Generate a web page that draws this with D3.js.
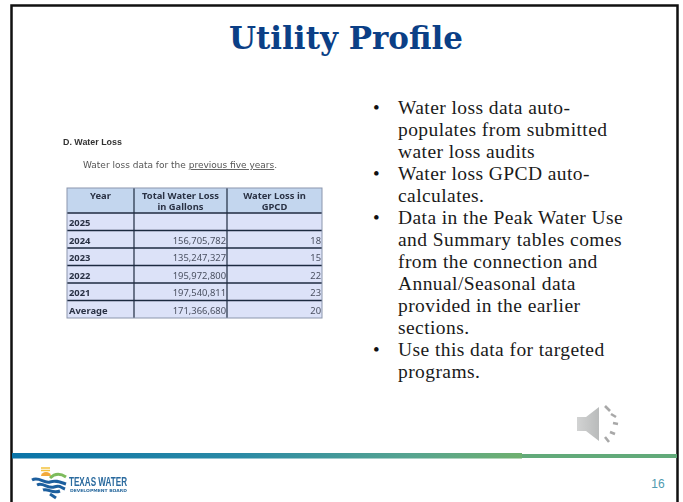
<!DOCTYPE html>
<html>
<head>
<meta charset="utf-8">
<script src="https://cdn.jsdelivr.net/npm/d3@7"></script>
<style>
html, body { margin: 0; padding: 0; background: #fff; }
svg { display: block; }
</style>
</head>
<body>
<svg id="slide" width="683" height="502"></svg>
<script>
// table values
const years = ["2025", "2024", "2023", "2022", "2021", "Average"];
const gallons = ["", "156,705,782", "135,247,327", "195,972,800", "197,540,811", "171,366,680"];
const gpcd = ["", "18", "15", "22", "23", "20"];
const headers = [["Year"], ["Total Water Loss", "in Gallons"], ["Water Loss in", "GPCD"]];

const bullets = [
    ["Water loss data auto-", "populates from submitted", "water loss audits"],
    ["Water loss GPCD auto-", "calculates."],
    ["Data in the Peak Water Use", "and Summary tables comes", "from the connection and", "Annual/Seasonal data", "provided in the earlier", "sections."],
    ["Use this data for targeted", "programs."]
];

const svg = d3.select("#slide");
const serif = "'Liberation Serif', serif";
const sans = "'Noto Sans', sans-serif";

// the table is a pasted screenshot in the original, a bit soft
const defs = svg.append("defs");
defs.append("filter").attr("id", "soft")
    .append("feGaussianBlur").attr("stdDeviation", 0.3);

// slide frame
svg.append("path")
    .attr("d", "M11.5,502V5.5H677.5V502")
    .attr("fill", "none").attr("stroke", "#111").attr("stroke-width", 2.5);

svg.append("text").text("Utility Profile")
    .attr("x", 229).attr("y", 48.5)
    .attr("textLength", 234).attr("lengthAdjust", "spacingAndGlyphs")
    .attr("font-family", "'DejaVu Serif', serif").attr("font-weight", "bold")
    .attr("font-size", 31).attr("fill", "#0b3f86");

const shot = svg.append("g").attr("filter", "url(#soft)");

// screenshot heading
shot.append("text").text("D. Water Loss")
    .attr("x", 63).attr("y", 145)
    .attr("font-family", "'Liberation Sans', sans-serif").attr("font-weight", "bold")
    .attr("font-size", 8.9).attr("fill", "#333");
const intro = shot.append("text")
    .attr("x", 83).attr("y", 168)
    .attr("font-family", "'DejaVu Sans', sans-serif").attr("font-size", 9).attr("fill", "#555");
intro.append("tspan").text("Water loss data for the ");
intro.append("tspan").text("previous five years").attr("text-decoration", "underline");
intro.append("tspan").text(".");

// table
const xCol = d3.scaleOrdinal().domain([0, 1, 2, 3]).range([67, 134, 227, 322]);
const yRow = d3.scaleBand().domain(years).range([213, 318]);
const table = shot.append("g");

table.append("rect")
    .attr("x", xCol(0)).attr("y", 188)
    .attr("width", xCol(3) - xCol(0)).attr("height", 25)
    .attr("fill", "#c3d6ee");
table.append("rect")
    .attr("x", xCol(0)).attr("y", 213)
    .attr("width", xCol(3) - xCol(0)).attr("height", 105)
    .attr("fill", "#dce2f8");

headers.forEach(function(lines, i) {
    const cx = (xCol(i) + xCol(i + 1)) / 2;
    const head = table.append("text")
        .attr("text-anchor", "middle")
        .attr("font-family", sans).attr("font-weight", "bold")
        .attr("font-size", 9.4).attr("fill", "#2a3244");
    head.selectAll("tspan").data(lines).enter().append("tspan")
        .text(function(d) { return d; })
        .attr("x", cx)
        .attr("y", function(d, k) { return 199 + k * 11; });
});

table.selectAll(".year").data(years).enter().append("text")
    .attr("class", "year")
    .text(function(d) { return d; })
    .attr("x", 69)
    .attr("y", function(d) { return yRow(d) + 13; })
    .attr("font-family", sans).attr("font-weight", "bold")
    .attr("font-size", 9.4).attr("fill", "#2a3244");

[[gallons, 2], [gpcd, 3]].forEach(function(c) {
    table.selectAll(null).data(c[0]).enter().append("text")
        .text(function(d) { return d; })
        .attr("x", xCol(c[1]) - 1)
        .attr("y", function(d, i) { return yRow(years[i]) + 13; })
        .attr("text-anchor", "end")
        .attr("font-family", sans).attr("font-size", 9.4).attr("fill", "#4a5060");
});

// grid lines
table.selectAll(".h").data(years).enter().append("line")
    .attr("class", "h")
    .attr("x1", xCol(0)).attr("x2", xCol(3))
    .attr("y1", function(d) { return yRow(d); })
    .attr("y2", function(d) { return yRow(d); })
    .attr("stroke", "#1f2a40").attr("stroke-width", 1.5);
table.selectAll(".v").data([1, 2]).enter().append("line")
    .attr("class", "v")
    .attr("x1", function(d) { return xCol(d); }).attr("x2", function(d) { return xCol(d); })
    .attr("y1", 188).attr("y2", 318)
    .attr("stroke", "#1f2a40").attr("stroke-width", 1.2);
table.append("rect")
    .attr("x", xCol(0)).attr("y", 188)
    .attr("width", xCol(3) - xCol(0)).attr("height", 130)
    .attr("fill", "none").attr("stroke", "#8b96ad").attr("stroke-width", 1);

// bullet list
let lineNo = 0;
const lineH = 22;
bullets.forEach(function(lines) {
    svg.append("text").text("•")
        .attr("x", 373).attr("y", 114 + lineNo * lineH)
        .attr("font-family", serif).attr("font-size", 19).attr("fill", "#111");
    lines.forEach(function(t) {
        svg.append("text").text(t)
            .attr("x", 398).attr("y", 113.5 + lineNo * lineH)
            .attr("font-family", serif).attr("font-size", 19.5)
            .attr("letter-spacing", 0.42).attr("fill", "#1a1a1a");
        lineNo++;
    });
});

// speaker icon
const speaker = svg.append("g").attr("filter", "url(#soft)");
const cone = defs.append("linearGradient").attr("id", "cone");
cone.append("stop").attr("offset", "0%").attr("stop-color", "#d2d3d3");
cone.append("stop").attr("offset", "100%").attr("stop-color", "#b9bbbb");
speaker.append("path")
    .attr("d", "M577,417H586L599,407V441L586,431H577Z")
    .attr("fill", "url(#cone)");
const dashes = [[605, 406, 610, 411], [611, 414, 616, 417], [613, 423, 618, 424], [610, 432, 615, 434], [605, 437, 609, 442]];
speaker.selectAll("line").data(dashes).enter().append("line")
    .attr("x1", function(d) { return d[0]; }).attr("y1", function(d) { return d[1]; })
    .attr("x2", function(d) { return d[2]; }).attr("y2", function(d) { return d[3]; })
    .attr("stroke", "#a8a8a8").attr("stroke-width", 2.6);

// footer rule
const grad = defs.append("linearGradient").attr("id", "rule");
grad.selectAll("stop").data([["0%", "#0a74a8"], ["45%", "#2b8aa5"], ["78%", "#56a490"], ["100%", "#6fb06f"]])
    .enter().append("stop")
    .attr("offset", function(d) { return d[0]; })
    .attr("stop-color", function(d) { return d[1]; });
svg.append("rect").attr("x", 12).attr("y", 453).attr("width", 510).attr("height", 5.5).attr("fill", "url(#rule)");
svg.append("rect").attr("x", 522).attr("y", 454).attr("width", 155).attr("height", 4).attr("fill", "#62aa7a");

// logo
const logo = svg.append("g").attr("filter", "url(#soft)");
logo.append("path").attr("d", "M41,468H50M41,470.5H50").attr("stroke", "#f4c23e").attr("stroke-width", 1.5);
logo.append("path").attr("d", "M41,476A5,4 0 0 1 51,476Z").attr("fill", "#f2a93b");
logo.append("path").attr("d", "M50,478C55,473 60,473 66,477").attr("fill", "none").attr("stroke", "#7dbb5c").attr("stroke-width", 3);
logo.append("path").attr("d", "M32,480C39,476 44,484 50,482S60,482 66,484").attr("fill", "none").attr("stroke", "#1f5f9e").attr("stroke-width", 3);
logo.append("path").attr("d", "M37,485C43,482 48,489 54,487S60,487 65,489").attr("fill", "none").attr("stroke", "#1f5f9e").attr("stroke-width", 3);
logo.append("path").attr("d", "M43,490C48,488 52,494 60,491").attr("fill", "none").attr("stroke", "#1f5f9e").attr("stroke-width", 3);
logo.append("path").attr("d", "M50,494L56,498").attr("fill", "none").attr("stroke", "#1f5f9e").attr("stroke-width", 3);
logo.append("text").text("TEXAS WATER")
    .attr("x", 69).attr("y", 485.5)
    .attr("textLength", 58).attr("lengthAdjust", "spacingAndGlyphs")
    .attr("font-family", "'Liberation Sans Narrow', 'Liberation Sans', sans-serif").attr("font-weight", "bold")
    .attr("font-size", 12).attr("fill", "#2a6a9e");
logo.append("text").text("DEVELOPMENT BOARD")
    .attr("x", 70).attr("y", 492)
    .attr("textLength", 57).attr("lengthAdjust", "spacingAndGlyphs")
    .attr("font-family", "'DejaVu Sans', sans-serif").attr("font-weight", "bold")
    .attr("font-size", 4.2).attr("fill", "#2a6a9e");

// page number
svg.append("text").text("16")
    .attr("x", 658).attr("y", 488)
    .attr("text-anchor", "middle")
    .attr("font-family", "'Liberation Sans', sans-serif").attr("font-size", 12).attr("fill", "#4f9ab0");
</script>
</body>
</html>
